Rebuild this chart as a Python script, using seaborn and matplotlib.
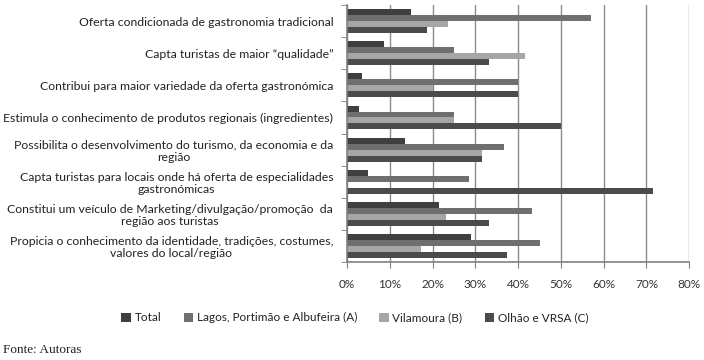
import numpy as np
import pandas as pd
import matplotlib
matplotlib.use("Agg")
import matplotlib.pyplot as plt
import seaborn as sns
from matplotlib.ticker import FixedLocator, PercentFormatter

categories = [
    "Oferta condicionada de gastronomia tradicional",
    "Capta turistas de maior \u201cqualidade\u201d",
    "Contribui para maior variedade da oferta gastronómica",
    "Estimula o conhecimento de produtos regionais (ingredientes)",
    "Possibilita o desenvolvimento do turismo, da economia e da\nregião",
    "Capta turistas para locais onde há oferta de especialidades\ngastronómicas",
    "Constitui um veículo de Marketing/divulgação/promoção  da\nregião aos turistas",
    "Propicia o conhecimento da identidade, tradições, costumes,\nvalores do local/região",
]
series = ["Total", "Lagos, Portimão e Albufeira (A)", "Vilamoura (B)", "Olhão e VRSA (C)"]

total = [15.0, 8.6, 3.4, 2.7, 13.6, 4.9, 21.5, 28.9]
lagos = [57.1, 25.0, 40.0, 25.0, 36.8, 28.5, 43.2, 45.0]
vilamoura = [23.6, 41.7, 20.0, 25.0, 31.6, 0.0, 23.2, 17.2]
olhao = [18.8, 33.3, 40.0, 50.0, 31.6, 71.5, 33.2, 37.5]

colors = ["#3f3f3f", "#6f6f6f", "#a6a6a6", "#4b4b4b"]

rows = []
for s, vals in zip(series, [total, lagos, vilamoura, olhao]):
    for c, v in zip(categories, vals):
        rows.append({"cat": c, "serie": s, "val": v})
df = pd.DataFrame(rows)

sns.set_style("white")
plt.rcParams["font.family"] = ["Lato", "DejaVu Sans"]

fig = plt.figure(figsize=(7.04, 3.6), dpi=100)
ax = fig.add_axes([0.493, 0.272, 0.486, 0.714])

sns.barplot(data=df, y="cat", x="val", hue="serie", order=categories,
            hue_order=series, palette=colors, orient="h", width=0.74,
            saturation=1, linewidth=0, ax=ax, legend=True)

ax.set_xlim(0, 80)
ax.set_ylim(len(categories) - 0.5, -0.5)
ax.xaxis.set_major_locator(FixedLocator(np.arange(0, 81, 10)))
ax.xaxis.set_major_formatter(PercentFormatter(decimals=0))
ax.grid(axis="x", color="#8c8c8c", linewidth=1.0)
ax.set_axisbelow(True)
ax.set_xlabel("")
ax.set_ylabel("")

for side in ["top", "right"]:
    ax.spines[side].set_visible(False)
for side in ["left", "bottom"]:
    ax.spines[side].set_color("#808080")
    ax.spines[side].set_linewidth(1.2)

ax.tick_params(axis="x", length=4, color="#808080", labelsize=8.5, pad=8,
               labelcolor="#333333", direction="out", bottom=True)
ax.tick_params(axis="y", which="major", length=0, labelsize=8.8, pad=10,
               labelcolor="#222222")
ax.yaxis.set_minor_locator(FixedLocator(np.arange(-0.5, len(categories), 1)))
ax.tick_params(axis="y", which="minor", length=4, color="#808080", left=True)
for lab in ax.get_yticklabels():
    lab.set_multialignment("center")
    lab.set_linespacing(1.1)

handles, labels = ax.get_legend_handles_labels()
ax.legend_.remove()
fig.legend(handles, labels, loc="center", bbox_to_anchor=(0.504, 0.117),
           ncol=4, frameon=False, fontsize=8.5, handlelength=0.8,
           handleheight=0.8, handletextpad=0.3, columnspacing=1.9,
           labelcolor="#222222")

fig.text(0.004, 0.02, "Fonte: Autoras", fontsize=9.5,
         family=["Liberation Serif", "DejaVu Serif"], color="#222222")

fig.savefig("out.png", dpi=100)
